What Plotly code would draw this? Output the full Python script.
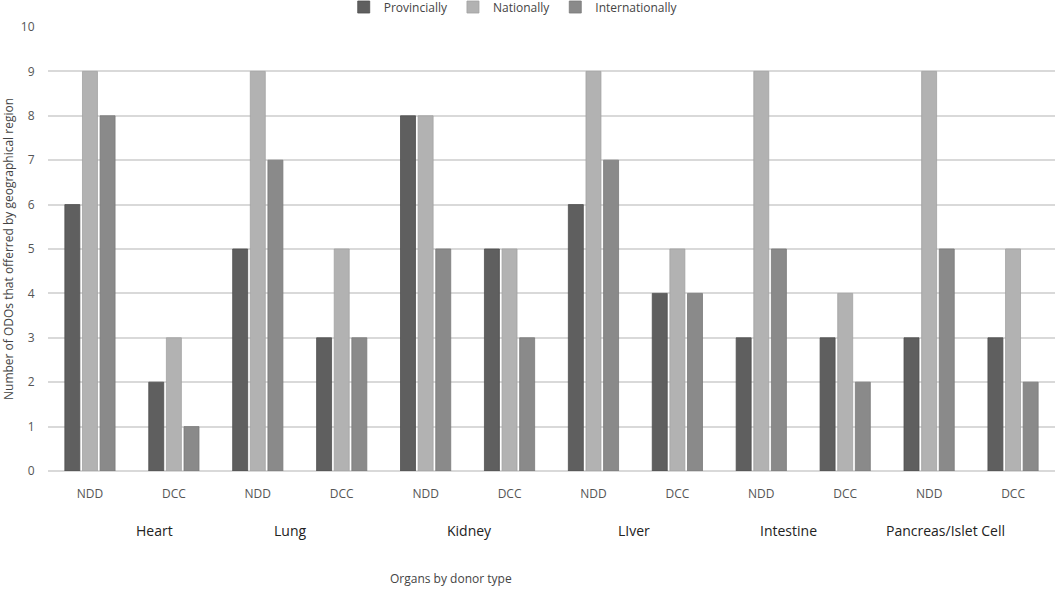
import plotly.graph_objects as go

# Organs and donor types (x categories)
organs = ["Heart", "Lung", "Kidney", "LIver", "Intestine", "Pancreas/Islet Cell"]
donor_types = ["NDD", "DCC"]

# Number of ODOs offering by region, ordered Heart NDD, Heart DCC, Lung NDD, ...
provincially = [6, 2, 5, 3, 8, 5, 6, 4, 3, 3, 3, 3]
nationally = [9, 3, 9, 5, 8, 5, 9, 5, 9, 4, 9, 5]
internationally = [8, 1, 7, 3, 5, 3, 7, 4, 5, 2, 5, 2]

y_ticks = list(range(0, 11))

categories = [o + " " + d for o in organs for d in donor_types]
tick_text = [d for o in organs for d in donor_types]

font_name = "Open Sans"

# where the organ names sit (category units), as in the original
organ_label_x = [0.77, 2.38, 4.52, 6.48, 8.32, 10.2]

fig = go.Figure()

# one trace per geographical region
fig.add_trace(go.Bar(x=categories, y=provincially, name="Provincially",
                     marker=dict(color="#5f5f5f", line=dict(color="#4f4f4f", width=0.8))))
fig.add_trace(go.Bar(x=categories, y=nationally, name="Nationally",
                     marker=dict(color="#b2b2b2", line=dict(color="#a2a2a2", width=0.8))))
fig.add_trace(go.Bar(x=categories, y=internationally, name="Internationally",
                     marker=dict(color="#8a8a8a", line=dict(color="#7a7a7a", width=0.8))))

# organ names under each NDD/DCC pair
for organ, lx in zip(organs, organ_label_x):
    fig.add_annotation(x=lx, y=-0.133, xref="x", yref="paper",
                       text=organ, showarrow=False, yanchor="middle",
                       font=dict(family=font_name, size=14, color="#222222"))

fig.add_annotation(x=0.4, y=-0.241, xref="paper", yref="paper",
                   text="Organs by donor type", showarrow=False,
                   xanchor="center", yanchor="middle",
                   font=dict(family=font_name, size=12, color="#444444"))

fig.update_layout(
    width=1056, height=589,
    barmode="group", bargap=0.37, bargroupgap=0.15,
    plot_bgcolor="white", paper_bgcolor="white",
    margin=dict(l=48, r=1, t=27, b=118, autoexpand=False),
    font=dict(family=font_name, size=12, color="#555555"),
    legend=dict(orientation="h", x=0.462, xanchor="center", y=1.045, yanchor="middle",
                font=dict(size=12, color="#444444"), itemwidth=30,
                traceorder="normal"),
    xaxis=dict(tickmode="array", tickvals=categories, ticktext=tick_text,
               showgrid=False, showline=False, ticks="outside", ticklen=12,
               tickcolor="rgba(0,0,0,0)",
               tickfont=dict(size=12, color="#555555")),
    yaxis=dict(range=[0, 10], tickvals=y_ticks, showgrid=True,
               gridcolor="#d9d9d9", gridwidth=1.5, zeroline=True,
               zerolinecolor="#d9d9d9", zerolinewidth=1.5,
               ticks="outside", ticklen=10, tickcolor="rgba(0,0,0,0)",
               tickfont=dict(size=12, color="#555555"),
               title=dict(text="Number of ODOs that offerred by geographical region",
                          font=dict(size=12, color="#444444"), standoff=6)),
)

# drop the page's default body margin so the figure sits at the window corner
fig.write_html("out.html", config={"displayModeBar": False},
               post_script="document.body.style.margin='0';")
